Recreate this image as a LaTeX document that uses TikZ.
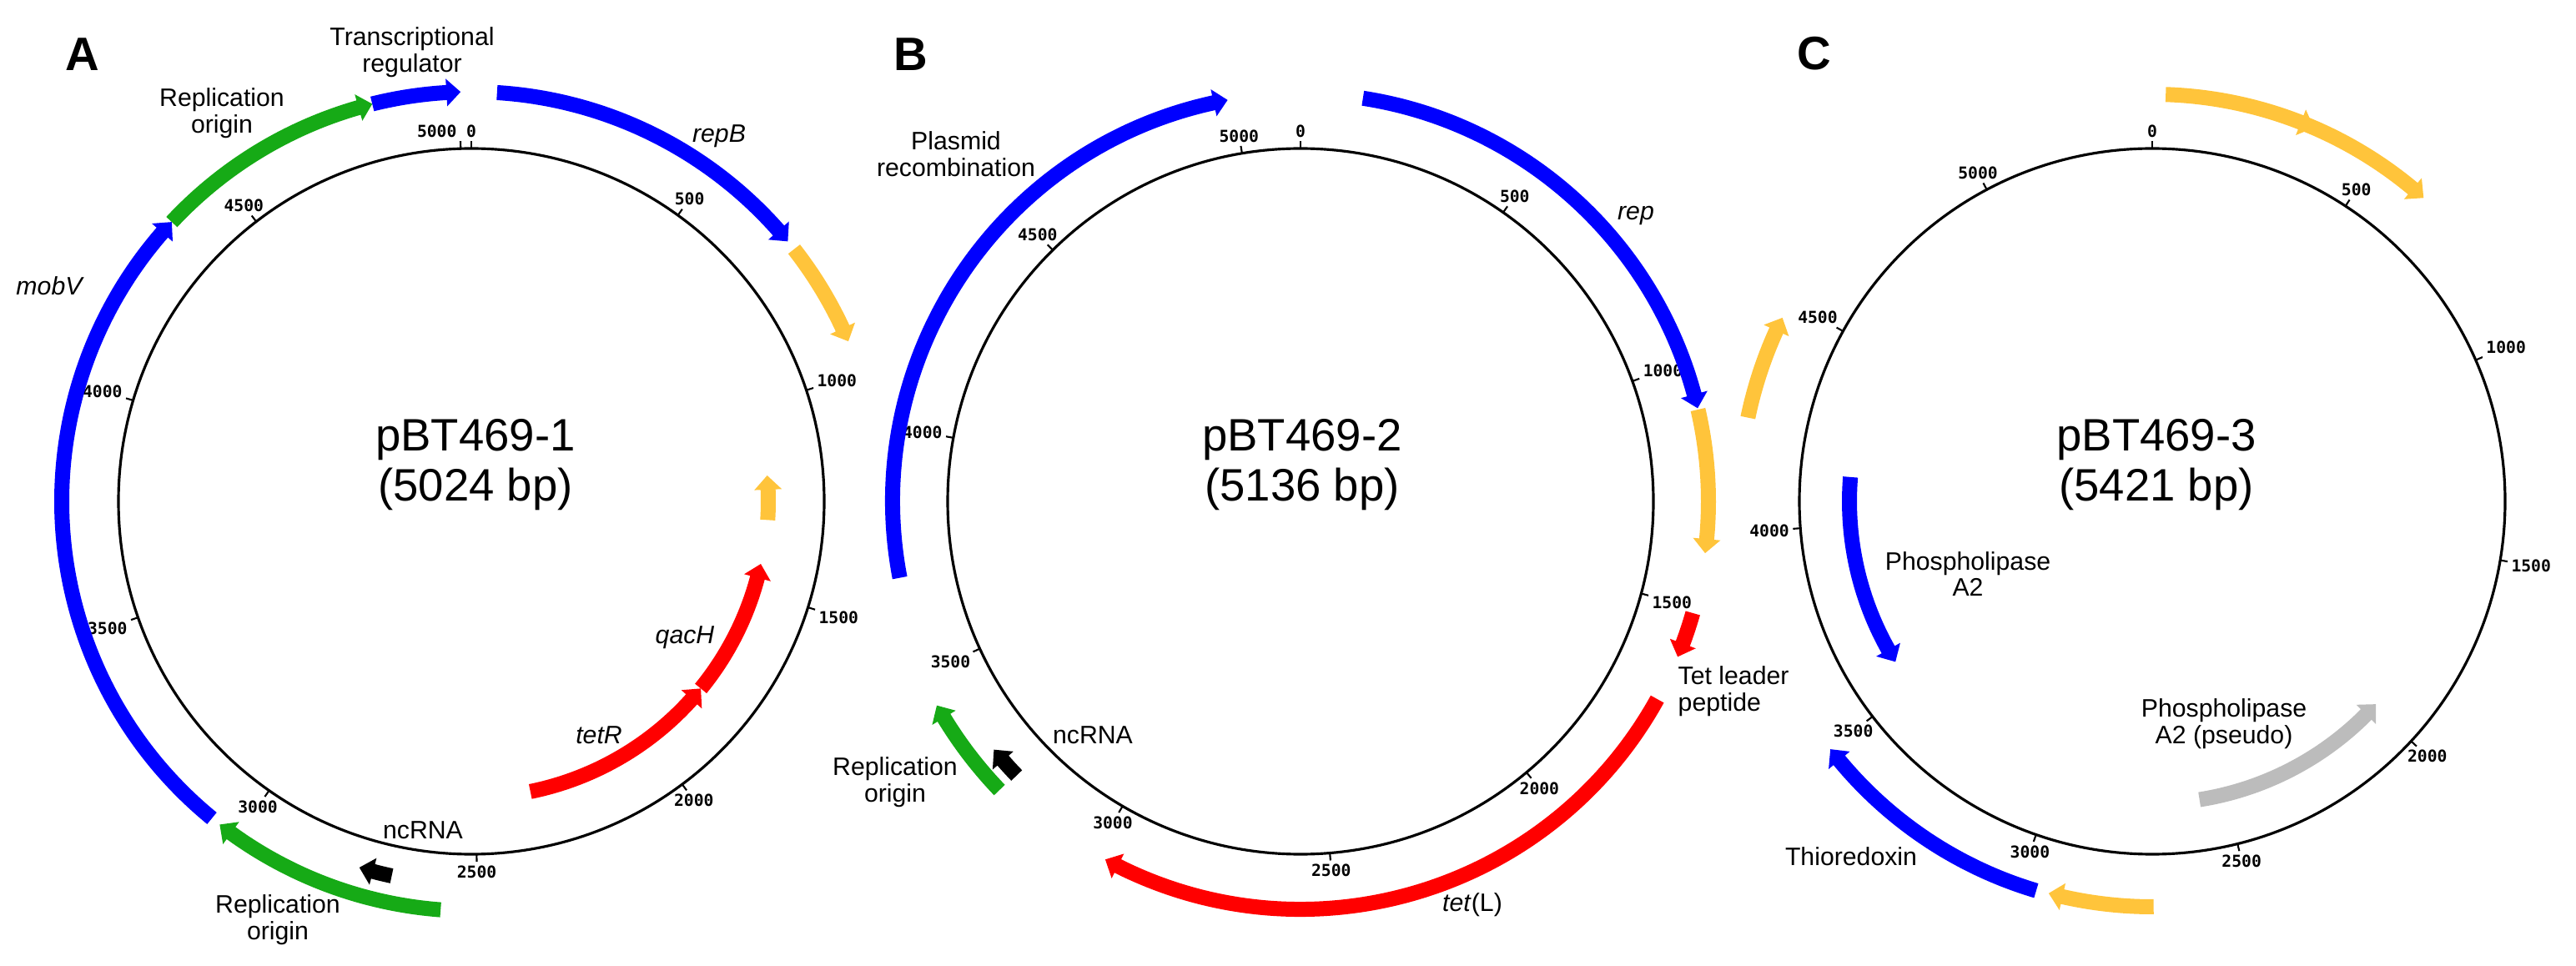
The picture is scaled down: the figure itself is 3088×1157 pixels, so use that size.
\documentclass[tikz,border=0pt]{standalone}
\usepackage{fontspec}
\setmainfont{Liberation Sans}
\newfontfamily\tickfont{DejaVu Sans Mono}
\usepackage{tikz}
\definecolor{geneblue}{RGB}{0, 0, 255}
\definecolor{genegreen}{RGB}{22, 170, 22}
\definecolor{geneorange}{RGB}{255, 196, 59}
\definecolor{genered}{RGB}{255, 0, 0}
\definecolor{genegrey}{RGB}{188, 188, 188}
\tikzset{
  % Plazmid halqasi
  plasmidring/.style = {line width=0.9pt, draw=black},
  tickmark/.style    = {line width=0.6pt, draw=black},
  ticklab/.style     = {font=\tickfont\bfseries\fontsize{5.6}{6}\selectfont, inner sep=1pt},
  % Etiketlar
  genelab/.style     = {font=\fontsize{8.6}{9}\selectfont, align=center, inner sep=0pt},
  geneit/.style      = {genelab, font=\fontsize{8.6}{9}\selectfont\itshape},
  maptitle/.style    = {font=\fontsize{15.5}{17}\selectfont, align=center, inner sep=0pt},
  panel/.style       = {font=\fontsize{16}{18}\selectfont\bfseries, inner sep=0pt},
}
% gen: rang, halqa radiusi, boshi, oxiri (tepadan soat yo'nalishida, gradus)
\newcommand{\gene}[4]{%
  \pgfmathsetmacro{\gfrom}{90-(#3)}%
  \pgfmathsetmacro{\gto}{90-(#4)}%
  \pgfmathsetmacro{\ghead}{\gto-sign(\gto-\gfrom)*17/(#2)*57.2958}%
  \pgfmathsetmacro{\gout}{#2+9}%
  \pgfmathsetmacro{\gin}{#2-9}%
  \pgfmathsetmacro{\ghout}{#2+16.5}%
  \pgfmathsetmacro{\ghin}{#2-16.5}%
  \fill[#1] (\gfrom:\gout) arc[start angle=\gfrom, end angle=\ghead, radius=\gout]
    -- (\ghead:\ghout) -- (\gto:#2) -- (\ghead:\ghin) -- (\ghead:\gin)
    arc[start angle=\ghead, end angle=\gfrom, radius=\gin] -- cycle;
}

\begin{document}
\begin{tikzpicture}[x=0.01cm, y=0.01cm]
  \useasboundingbox (0,0) rectangle (3088,1157);

  % A: pBT469-1
  \begin{scope}[shift={(565,556)}]
    \draw[plasmidring] (0,0) circle[radius=423];
    \def\plen{5024}
    \foreach \pos in {0,500,...,4500} {
      \pgfmathsetmacro{\tkang}{90-360*(\pos/\plen)}
      \pgfmathtruncatemacro{\tkanc}{\tkang+180}
      \draw[tickmark] (\tkang:423) -- (\tkang:432) node[ticklab, anchor=\tkanc] {\pos};
    }
    \pgfmathsetmacro{\tkang}{90-360*(5000/\plen)}
    \draw[tickmark] (\tkang:423) -- (\tkang:432) node[ticklab, anchor=south east] {5000};
    \gene{genegreen}{491}{-47}{-14}
    \gene{geneblue}{491}{-14}{-1.5}
    \gene{geneblue}{491}{-140.7}{-47}
    \gene{geneblue}{491}{3.6}{50.6}
    \gene{geneorange}{491}{52}{67}
    \gene{genegreen}{491}{184.3}{217.9}
    \gene{black}{459}{192}{197}
    \gene{genered}{355}{168.5}{129.2}
    \gene{genered}{355}{129.2}{102.2}
    \gene{geneorange}{356}{93.6}{85}
  \end{scope}
  \node[panel] (panA) at (99,1092) {A};
  \node[genelab] (labTR) at (494,1094) {Transcriptional\\regulator};
  \node[genelab] (labOriA1) at (266,1021) {Replication\\origin};
  \node[geneit] (labRepB) at (862,994) {repB};
  \node[geneit] (labMobV) at (59,814) {mobV};
  \node[geneit] (labQacH) at (821,393) {qacH};
  \node[geneit] (labTetR) at (718,276) {tetR};
  \node[genelab] (labNcA) at (507,162) {ncRNA};
  \node[genelab] (labOriA2) at (333,54) {Replication\\origin};
  \node[maptitle] (titleA) at (570,600) {pBT469-1\\(5024 bp)};

  % B: pBT469-2
  \begin{scope}[shift={(1559,556)}]
    \draw[plasmidring] (0,0) circle[radius=423];
    \def\plen{5136}
    \foreach \pos in {0,500,...,5000} {
      \pgfmathsetmacro{\tkang}{90-360*(\pos/\plen)}
      \pgfmathtruncatemacro{\tkanc}{\tkang+180}
      \draw[tickmark] (\tkang:423) -- (\tkang:432) node[ticklab, anchor=\tkanc] {\pos};
    }
    \gene{geneblue}{489}{-100.8}{-10.3}
    \gene{geneblue}{489}{8.8}{76.8}
    \gene{geneorange}{489}{77}{97.3}
    \gene{genered}{489}{105.9}{112.4}
    \gene{genered}{489}{119}{208.6}
    \gene{genegreen}{500}{226.2}{240.7}
    \gene{black}{473}{226}{231}
  \end{scope}
  \node[panel] (panB) at (1092,1092) {B};
  \node[genelab] (labRecomb) at (1146,972) {Plasmid\\recombination};
  \node[geneit] (labRep) at (1961,898) {rep};
  \node[genelab, align=left, anchor=west] (labLeader) at (2011,328) {Tet leader\\peptide};
  \node[genelab] (labTetL) at (1765,72) {\textit{tet}(L)};
  \node[genelab] (labNcB) at (1310,276) {ncRNA};
  \node[genelab] (labOriB) at (1073,219) {Replication\\origin};
  \node[maptitle] (titleB) at (1561,600) {pBT469-2\\(5136 bp)};

  % C: pBT469-3
  \begin{scope}[shift={(2580,556)}]
    \draw[plasmidring] (0,0) circle[radius=423];
    \def\plen{5421}
    \foreach \pos in {0,500,...,5000} {
      \pgfmathsetmacro{\tkang}{90-360*(\pos/\plen)}
      \pgfmathtruncatemacro{\tkanc}{\tkang+180}
      \draw[tickmark] (\tkang:423) -- (\tkang:432) node[ticklab, anchor=\tkanc] {\pos};
    }
    \gene{geneorange}{488}{1.9}{23.4}
    \gene{geneorange}{488}{21.4}{41.8}
    \gene{geneorange}{495}{281.7}{296.4}
    \gene{geneblue}{363}{274.6}{238}
    \gene{genegrey}{362}{171}{132.2}
    \gene{geneblue}{487}{196.6}{232.4}
    \gene{geneorange}{486}{179.8}{194.8}
  \end{scope}
  \node[panel] (panC) at (2175,1093) {C};
  \node[genelab] (labPla) at (2359,469) {Phospholipase\\A2};
  \node[genelab] (labPlaPs) at (2666,289) {Phospholipase\\A2 (pseudo)};
  \node[genelab] (labThio) at (2219,130) {Thioredoxin};
  \node[maptitle] (titleC) at (2585,600) {pBT469-3\\(5421 bp)};
\end{tikzpicture}
\end{document}
